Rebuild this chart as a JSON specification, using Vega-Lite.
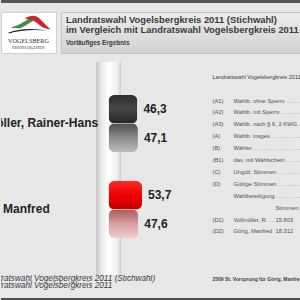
{
  "$schema": "https://vega.github.io/schema/vega-lite/v6.json",
  "padding": 0,
  "background": "#e7e7e7",
  "spacing": 8,
  "config": {
    "view": {"stroke": null},
    "font": "Liberation Sans",
    "locale": {"number": {"decimal": ",", "thousands": ".", "grouping": [3], "currency": ["", " €"]}}
  },
  "datasets": {
    "bars": [
      {"candidate": "Vollmöller, Rainer-Hans", "series": "Landratswahl Vogelsbergkreis 2011 (Stichwahl)", "value": 46.3},
      {"candidate": "Vollmöller, Rainer-Hans", "series": "Landratswahl Vogelsbergkreis 2011", "value": 47.1},
      {"candidate": "Görig, Manfred", "series": "Landratswahl Vogelsbergkreis 2011 (Stichwahl)", "value": 53.7},
      {"candidate": "Görig, Manfred", "series": "Landratswahl Vogelsbergkreis 2011", "value": 47.6}
    ],
    "series": [
      {"series": "Landratswahl Vogelsbergkreis 2011 (Stichwahl)"},
      {"series": "Landratswahl Vogelsbergkreis 2011"}
    ],
    "tableCells": [
      {"row": 2, "col": "code", "text": "(A1)"},
      {"row": 2, "col": "label", "text": "Wahlb. ohne Sperrv. . . . . . . . . . . . . . . . ."},
      {"row": 3, "col": "code", "text": "(A2)"},
      {"row": 3, "col": "label", "text": "Wahlb. mit Sperrv. . . . . . . . . . . . . . . . . ."},
      {"row": 4, "col": "code", "text": "(A3)"},
      {"row": 4, "col": "label", "text": "Wahlb. nach § 6, 2 KWG . . . . . . . . . . . ."},
      {"row": 5, "col": "code", "text": "(A)"},
      {"row": 5, "col": "label", "text": "Wahlb. insges. . . . . . . . . . . . . . . . . . . ."},
      {"row": 6, "col": "code", "text": "(B)"},
      {"row": 6, "col": "label", "text": "Wähler . . . . . . . . . . . . . . . . . . . . . . . ."},
      {"row": 7, "col": "code", "text": "(B1)"},
      {"row": 7, "col": "label", "text": "dav. mit Wahlschein . . . . . . . . . . . . . . ."},
      {"row": 8, "col": "code", "text": "(C)"},
      {"row": 8, "col": "label", "text": "Ungült. Stimmen . . . . . . . . . . . . . . . . . ."},
      {"row": 9, "col": "code", "text": "(D)"},
      {"row": 9, "col": "label", "text": "Gültige Stimmen . . . . . . . . . . . . . . . . . ."},
      {"row": 10, "col": "label", "text": "Wahlbeteiligung . . . . . . . . . . . . . . . . . ."},
      {"row": 11, "col": "value", "text": "Stimmen"},
      {"row": 12, "col": "code", "text": "(D1)"},
      {"row": 12, "col": "label", "text": "Vollmöller, R. . ."},
      {"row": 12, "col": "value", "text": "15.803"},
      {"row": 13, "col": "code", "text": "(D2)"},
      {"row": 13, "col": "label", "text": "Görig, Manfred"},
      {"row": 13, "col": "value", "text": "18.312"}
    ],
    "tableTitle": [{"row": 0, "col": "code", "text": "Landratswahl Vogelsbergkreis 2011 (Stichwahl)"}],
    "tableNote": [{"row": 17, "col": "code", "text": "2509 St. Vorsprung für Görig, Manfred"}]
  },
  "vconcat": [
    {
      "width": 300, "height": 3,
      "view": {"fill": "#555555", "stroke": null},
      "data": {"values": [{}]},
      "mark": {"type": "rect", "color": "#555555"},
      "encoding": {}
    },
    {
      "spacing": 3,
      "hconcat": [
        {
          "width": 55, "height": 41,
          "view": {"fill": "#ffffff", "stroke": "#d0d0d0"},
          "layer": [
            {
              "data": {"values": [{}]},
              "mark": {"type": "point", "filled": true, "opacity": 1, "size": 1600, "color": "#3d8f3d", "strokeWidth": 0,
                "shape": "M-0.9,-0.25 Q-0.4,-0.35 0.2,-0.82 L0.25,-0.6 Q-0.2,-0.3 -0.45,-0.2 Z"},
              "encoding": {}
            },
            {
              "data": {"values": [{}]},
              "mark": {"type": "point", "filled": true, "opacity": 1, "size": 1600, "color": "#c8262b", "strokeWidth": 0,
                "shape": "M-0.2,-0.7 Q0.2,-0.95 0.5,-0.75 Q0.8,-0.45 1.1,-0.15 Q0.7,-0.2 0.45,-0.45 Q0.25,-0.65 -0.2,-0.7 Z"},
              "encoding": {}
            },
            {
              "data": {"values": [{}]},
              "mark": {"type": "point", "filled": true, "opacity": 1, "size": 1600, "color": "#1a1a1a", "strokeWidth": 0,
                "shape": "M-1,0 Q-0.2,-0.3 0.95,-0.1 Q-0.2,-0.2 -1,0.05 Z"},
              "encoding": {}
            },
            {
              "data": {"values": [{"t": "VOGELSBERG", "k": 0, "s": 6.2}, {"t": "HESSENS URGESTEIN", "k": 1, "s": 3.2}]},
              "mark": {"type": "text", "font": "Liberation Serif", "color": "#2b2b3b", "baseline": "middle"},
              "encoding": {
                "y": {"field": "k", "type": "quantitative", "scale": {"domain": [-4.143, 1.714], "reverse": true, "nice": false, "zero": false}, "axis": null},
                "text": {"field": "t"},
                "size": {"field": "s", "type": "quantitative", "scale": null}
              }
            }
          ]
        },
        {
          "width": 242, "height": 41,
          "view": {"fill": {"gradient": "linear", "x1": 0, "y1": 0, "x2": 0, "y2": 1, "stops": [{"offset": 0, "color": "#ececec"}, {"offset": 1, "color": "#d2d2d2"}]}, "stroke": "#c4c4c4"},
          "title": {
            "text": ["Landratswahl Vogelsbergkreis 2011 (Stichwahl)", "im Vergleich mit Landratswahl Vogelsbergkreis 2011"],
            "subtitle": "Vorläufiges Ergebnis",
            "anchor": "start", "frame": "group", "orient": "top",
            "offset": -35, "dx": 5,
            "fontSize": 9.4, "fontWeight": "bold", "lineHeight": 10, "color": "#3a3a3a",
            "subtitleFontSize": 6.4, "subtitleFontWeight": "bold", "subtitleColor": "#3a3a3a", "subtitlePadding": 4
          },
          "data": {"values": [{}]},
          "mark": {"type": "rect", "opacity": 0},
          "encoding": {}
        }
      ]
    },
    {
      "spacing": 2,
      "hconcat": [
        {
          "spacing": 0,
          "vconcat": [
            {
              "width": 196, "height": 213,
              "data": {"name": "bars"},
              "layer": [
                {
                  "data": {"values": [{}]},
                  "mark": {"type": "rect", "color": {"gradient": "linear", "x1": 0, "y1": 0, "x2": 1, "y2": 0, "stops": [{"offset": 0, "color": "#c4c4c4"}, {"offset": 0.2, "color": "#e6e6e6"}, {"offset": 0.5, "color": "#ffffff"}, {"offset": 0.85, "color": "#f0f0f0"}, {"offset": 1, "color": "#cdcdcd"}]}},
                  "encoding": {
                    "x": {"datum": -20, "type": "quantitative", "scale": {"domain": [-172.3, 141.8], "nice": false}, "axis": null},
                    "x2": {"datum": 20}
                  }
                },
                {
                  "transform": [{"filter": "datum.candidate == 'Vollmöller, Rainer-Hans' && datum.series == 'Landratswahl Vogelsbergkreis 2011 (Stichwahl)'"}],
                  "mark": {"type": "bar", "cornerRadius": 6, "color": {"gradient": "linear", "x1": 0, "y1": 0, "x2": 0, "y2": 1, "stops": [{"offset": 0, "color": "#2a2a2a"}, {"offset": 0.45, "color": "#474747"}, {"offset": 1, "color": "#262626"}]}},
                  "encoding": {
                    "x": {"field": "value", "type": "quantitative", "scale": {"domain": [-172.3, 141.8], "nice": false}, "axis": null},
                    "y": {"field": "candidate", "type": "nominal", "scale": {"domain": ["Vollmöller, Rainer-Hans", "Görig, Manfred"], "paddingInner": 0.337, "paddingOuter": 0.407, "align": 0.471}, "axis": null},
                    "yOffset": {"field": "series", "type": "nominal", "scale": {"domain": ["Landratswahl Vogelsbergkreis 2011 (Stichwahl)", "Landratswahl Vogelsbergkreis 2011"], "paddingInner": 0, "paddingOuter": 0}}
                  }
                },
                {
                  "transform": [{"filter": "datum.candidate == 'Vollmöller, Rainer-Hans' && datum.series == 'Landratswahl Vogelsbergkreis 2011'"}],
                  "mark": {"type": "bar", "cornerRadius": 6, "color": {"gradient": "linear", "x1": 0, "y1": 0, "x2": 0, "y2": 1, "stops": [{"offset": 0, "color": "#4e4e4e"}, {"offset": 0.5, "color": "#8c8c8c"}, {"offset": 1, "color": "#bdbdbd"}]}},
                  "encoding": {
                    "x": {"field": "value", "type": "quantitative", "scale": {"domain": [-172.3, 141.8], "nice": false}, "axis": null},
                    "y": {"field": "candidate", "type": "nominal", "axis": null},
                    "yOffset": {"field": "series", "type": "nominal"}
                  }
                },
                {
                  "transform": [{"filter": "datum.candidate == 'Görig, Manfred' && datum.series == 'Landratswahl Vogelsbergkreis 2011 (Stichwahl)'"}],
                  "mark": {"type": "bar", "cornerRadius": 6, "color": {"gradient": "linear", "x1": 0, "y1": 0, "x2": 0, "y2": 1, "stops": [{"offset": 0, "color": "#ff2a2a"}, {"offset": 0.5, "color": "#f00000"}, {"offset": 1, "color": "#c40000"}]}},
                  "encoding": {
                    "x": {"field": "value", "type": "quantitative", "scale": {"domain": [-172.3, 141.8], "nice": false}, "axis": null},
                    "y": {"field": "candidate", "type": "nominal", "axis": null},
                    "yOffset": {"field": "series", "type": "nominal"}
                  }
                },
                {
                  "transform": [{"filter": "datum.candidate == 'Görig, Manfred' && datum.series == 'Landratswahl Vogelsbergkreis 2011'"}],
                  "mark": {"type": "bar", "cornerRadius": 6, "color": {"gradient": "linear", "x1": 0, "y1": 0, "x2": 0, "y2": 1, "stops": [{"offset": 0, "color": "#a45c5c"}, {"offset": 0.5, "color": "#d8a0a0"}, {"offset": 1, "color": "#f2cccc"}]}},
                  "encoding": {
                    "x": {"field": "value", "type": "quantitative", "scale": {"domain": [-172.3, 141.8], "nice": false}, "axis": null},
                    "y": {"field": "candidate", "type": "nominal", "axis": null},
                    "yOffset": {"field": "series", "type": "nominal"}
                  }
                },
                {
                  "mark": {"type": "text", "align": "left", "baseline": "middle", "dx": 6, "fontSize": 12, "fontWeight": "bold", "color": "#222222"},
                  "encoding": {
                    "x": {"field": "value", "type": "quantitative", "scale": {"domain": [-172.3, 141.8], "nice": false}, "axis": null},
                    "y": {"field": "candidate", "type": "nominal", "axis": null},
                    "yOffset": {"field": "series", "type": "nominal"},
                    "text": {"field": "value", "type": "quantitative", "format": ".1f"}
                  }
                },
                {
                  "transform": [{"filter": "datum.series == 'Landratswahl Vogelsbergkreis 2011 (Stichwahl)'"}],
                  "mark": {"type": "text", "align": "left", "baseline": "middle", "fontSize": 12, "fontWeight": "bold", "color": "#222222", "clip": true},
                  "encoding": {
                    "x": {"datum": -231, "type": "quantitative", "scale": {"domain": [-172.3, 141.8], "nice": false}, "axis": null},
                    "y": {"field": "candidate", "type": "nominal", "axis": null},
                    "text": {"field": "candidate"}
                  }
                }
              ]
            },
            {
              "width": 196, "height": 15,
              "data": {"name": "series"},
              "mark": {"type": "text", "align": "left", "baseline": "middle", "fontStyle": "italic", "fontSize": 8.2, "color": "#3a3a3a", "clip": true},
              "encoding": {
                "x": {"datum": -201, "type": "quantitative", "scale": {"domain": [-172.3, 141.8], "nice": false}, "axis": null},
                "y": {"field": "series", "type": "nominal", "scale": {"domain": ["Landratswahl Vogelsbergkreis 2011 (Stichwahl)", "Landratswahl Vogelsbergkreis 2011"], "paddingInner": 0, "paddingOuter": 0}, "axis": null},
                "text": {"field": "series"}
              }
            }
          ]
        },
        {
          "width": 102, "height": 228,
          "layer": [
            {
              "data": {"name": "tableCells"},
              "mark": {"type": "text", "align": "left", "baseline": "middle", "fontSize": 5.8, "color": "#505050", "clip": true},
              "encoding": {
                "x": {"field": "col", "type": "nominal", "scale": {"type": "point", "domain": ["code", "label", "gap", "value"], "range": [3, 87]}, "axis": null},
                "y": {"field": "row", "type": "quantitative", "scale": {"domain": [-1.235, 17.92], "reverse": true, "nice": false, "zero": false}, "axis": null},
                "text": {"field": "text"}
              }
            },
            {
              "data": {"name": "tableTitle"},
              "mark": {"type": "text", "align": "left", "baseline": "middle", "fontSize": 5.6, "color": "#404040", "clip": true},
              "encoding": {
                "x": {"field": "col", "type": "nominal", "axis": null},
                "y": {"field": "row", "type": "quantitative", "axis": null},
                "text": {"field": "text"}
              }
            },
            {
              "data": {"name": "tableNote"},
              "mark": {"type": "text", "align": "left", "baseline": "middle", "fontSize": 5, "fontWeight": "bold", "color": "#404040", "clip": true},
              "encoding": {
                "x": {"field": "col", "type": "nominal", "axis": null},
                "y": {"field": "row", "type": "quantitative", "axis": null},
                "text": {"field": "text"}
              }
            }
          ]
        }
      ]
    },
    {
      "width": 300, "height": 4,
      "view": {"fill": "#4e4e4e", "stroke": null},
      "data": {"values": [{}]},
      "mark": {"type": "rect", "color": "#4e4e4e"},
      "encoding": {}
    }
  ]
}
